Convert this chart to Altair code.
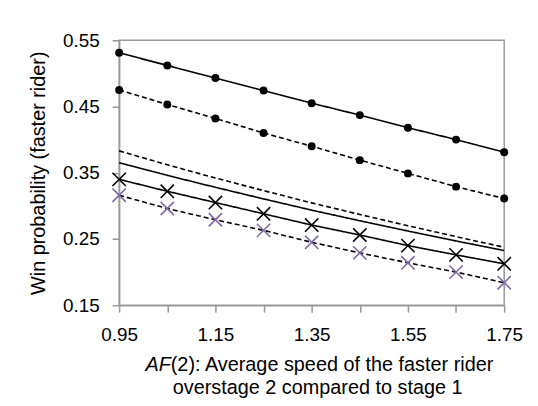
import altair as alt
import pandas as pd

x_vals = [0.95, 1.05, 1.15, 1.25, 1.35, 1.45, 1.55, 1.65, 1.75]
series_names = ["A", "B", "C", "D", "E", "F"]
s_a = [0.531, 0.512, 0.493, 0.474, 0.455, 0.437, 0.418, 0.400, 0.381]
s_b = [0.475, 0.453, 0.432, 0.410, 0.390, 0.369, 0.349, 0.329, 0.311]
s_c = [0.383, 0.362, 0.342, 0.323, 0.3045, 0.287, 0.270, 0.2535, 0.2375]
s_d = [0.365, 0.346, 0.328, 0.3105, 0.2935, 0.2775, 0.262, 0.247, 0.2325]
s_e = [0.340, 0.322, 0.305, 0.288, 0.271, 0.256, 0.240, 0.226, 0.2125]
s_f = [0.316, 0.296, 0.279, 0.263, 0.245, 0.229, 0.214, 0.200, 0.184]
y_ticks = [0.15, 0.20, 0.25, 0.30, 0.35, 0.40, 0.45, 0.50, 0.55]

rows = []
for name, vals in zip(series_names, [s_a, s_b, s_c, s_d, s_e, s_f]):
    for xv, yv in zip(x_vals, vals):
        rows.append({"series": name, "x": xv, "y": yv})
df = pd.DataFrame(rows)

FONT = "Liberation Sans"
PURPLE = "#7e68a6"

x_enc = alt.X("x:Q", scale=alt.Scale(domain=[0.95, 1.75], nice=False, zero=False),
              axis=alt.Axis(values=x_vals, format=".2f", title=None, grid=False,
                            labelExpr="(round(datum.value*100) % 20 == 15) ? datum.label : ''",
                            labelOverlap=False, labelFlush=False, labelPadding=14))
y_enc = alt.Y("y:Q", scale=alt.Scale(domain=[0.15, 0.55], nice=False, zero=False),
              axis=alt.Axis(values=y_ticks, format=".2f", title="Win probability (faster rider)",
                            grid=False, labelOverlap=False, labelFlush=False,
                            labelExpr="(round(datum.value*100) % 10 == 5) ? datum.label : ''",
                            labelPadding=13, titlePadding=14))

color = alt.Color("series:N", scale=alt.Scale(domain=series_names,
                  range=["black", "black", "black", "black", "black", PURPLE]), legend=None)
dash = alt.StrokeDash("series:N", scale=alt.Scale(domain=series_names,
                      range=[[1, 0], [5, 3], [5, 3], [1, 0], [1, 0], [5, 3]]), legend=None)

base = alt.Chart(df)
lines = base.mark_line(strokeWidth=1.6).encode(
    x=x_enc, y=y_enc, detail="series:N", strokeDash=dash,
    color=alt.value("black"))
circles = base.transform_filter(
    alt.FieldOneOfPredicate(field="series", oneOf=["A", "B"])
).mark_circle(size=64, opacity=1, color="black").encode(x="x:Q", y="y:Q")
crosses = base.transform_filter(
    alt.FieldOneOfPredicate(field="series", oneOf=["E", "F"])
).mark_point(shape="M-1,-1L1,1M-1,1L1,-1", size=180, filled=False, strokeWidth=1.6, opacity=1).encode(
    x="x:Q", y="y:Q", color=color)

one = pd.DataFrame({"k": [0]})
t_af = alt.Chart(one).mark_text(text="AF", font=FONT, fontSize=20, fontStyle="italic",
                                align="right", baseline="middle").encode(
    x=alt.value(52), y=alt.value(327))
t_rest = alt.Chart(one).mark_text(text="(2): Average speed of the faster rider", font=FONT,
                                  fontSize=20, align="left", baseline="middle").encode(
    x=alt.value(52), y=alt.value(327))
t_line2 = alt.Chart(one).mark_text(text="overstage 2 compared to stage 1", font=FONT,
                                   fontSize=20, align="center", baseline="middle").encode(
    x=alt.value(200), y=alt.value(350))

chart = alt.layer(lines, circles, crosses, t_af, t_rest, t_line2).properties(
    width=388, height=267,
    background="white",
    autosize=alt.AutoSizeParams(type="none"),
    padding={"left": 112, "top": 31, "right": 26, "bottom": 92},
).configure_view(stroke="#999999", strokeWidth=1.5).configure_axis(
    labelFont=FONT, titleFont=FONT, labelFontSize=19, titleFontSize=20,
    titleFontWeight="normal", labelColor="black", titleColor="black",
    domainColor="#999999", domainWidth=1.5, tickColor="#999999", tickWidth=1.5, tickSize=7,
)

chart.save("out.html", embed_options={"renderer": "svg", "actions": False})
